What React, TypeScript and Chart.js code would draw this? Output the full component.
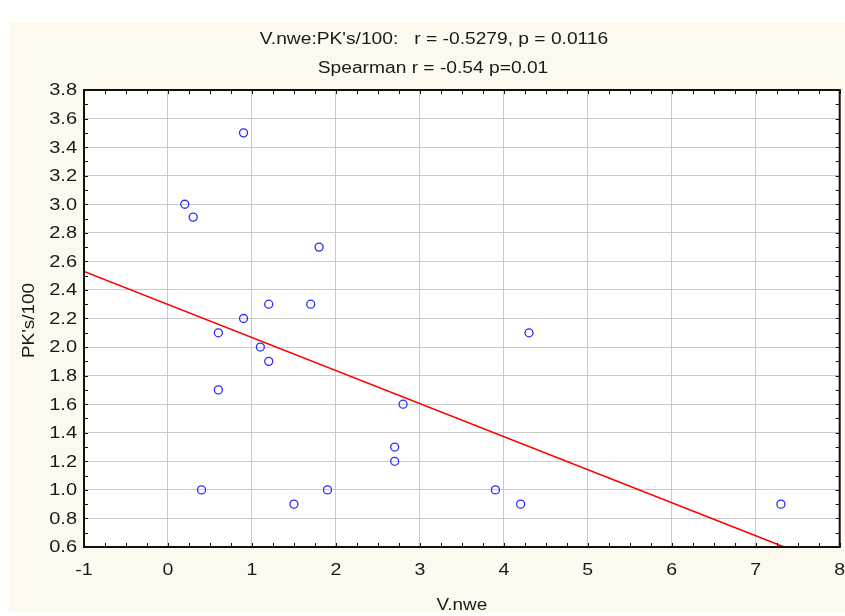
import React, { useEffect, useRef } from "react";
import { Chart, registerables } from "chart.js";

Chart.register(...registerables);

const xValues = [0.9, 0.2, 0.3, 1.8, 1.2, 1.7, 0.9, 0.6, 4.3, 1.1, 1.2, 0.6, 2.8, 2.7, 2.7, 0.4, 1.9, 1.5, 3.9, 4.2, 7.3];
const yValues = [3.5, 3.0, 2.91, 2.7, 2.3, 2.3, 2.2, 2.1, 2.1, 2.0, 1.9, 1.7, 1.6, 1.3, 1.2, 1.0, 1.0, 0.9, 1.0, 0.9, 0.9];
const fitX = [-1, 7.34];
const fitY = [2.53, 0.6];
const titleLines = ["V.nwe:PK's/100:   r = -0.5279, p = 0.0116", "Spearman r = -0.54 p=0.01"];
const xTitle = "V.nwe";
const yTitle = "PK's/100";
const xRange = [-1, 8];
const yRange = [0.6, 3.8];

const W = 845;
const H = 616;
const FONT = "16px 'Liberation Sans', Arial, sans-serif";
const TEXT = "#1a1a1a";

function drawText(ctx: any, text: string, x: number, y: number, align: string, baseline: string, sx: number) {
  ctx.save();
  ctx.translate(x, y);
  ctx.scale(sx, 1);
  ctx.font = FONT;
  ctx.fillStyle = TEXT;
  ctx.textAlign = align;
  ctx.textBaseline = baseline;
  ctx.fillText(text, 0, 0);
  ctx.restore();
}

const decor = {
  id: "decor",
  beforeDraw(chart: any) {
    const { ctx, chartArea: a } = chart;
    ctx.save();
    ctx.fillStyle = "#ffffff";
    ctx.fillRect(0, 0, W, H);
    ctx.fillStyle = "#fef9ee";
    ctx.fillRect(9, 22, W - 9, 590);
    ctx.fillStyle = "#ffffff";
    ctx.fillRect(a.left, a.top, a.right - a.left, a.bottom - a.top);
    ctx.restore();
  },
  afterDraw(chart: any) {
    const { ctx, chartArea: a } = chart;
    const xs = chart.scales.x;
    const ys = chart.scales.y;
    ctx.save();
    ctx.strokeStyle = "#111111";
    ctx.lineWidth = 1;
    ctx.beginPath();
    for (let i = 0; i <= 36; i++) {
      const v = xRange[0] + i * 0.25;
      const px = Math.round(xs.getPixelForValue(v)) + 0.5;
      ctx.moveTo(px, a.bottom);
      ctx.lineTo(px, a.bottom - 4);
      ctx.moveTo(px, a.top);
      ctx.lineTo(px, a.top + 4);
    }
    for (let i = 0; i <= 32; i++) {
      const v = yRange[0] + i * 0.1;
      const py = Math.round(ys.getPixelForValue(v)) + 0.5;
      ctx.moveTo(a.left, py);
      ctx.lineTo(a.left + 4, py);
      ctx.moveTo(a.right, py);
      ctx.lineTo(a.right - 4, py);
    }
    ctx.stroke();
    ctx.lineWidth = 2;
    ctx.strokeRect(a.left, a.top, a.right - a.left, a.bottom - a.top);
    ctx.restore();

    // tick labels, placed through the library's scales
    for (const t of xs.ticks) {
      const px = xs.getPixelForValue(t.value);
      drawText(ctx, String(Math.round(t.value)), px, a.bottom + 28, "center", "alphabetic", 1.22);
    }
    for (const t of ys.ticks) {
      const py = ys.getPixelForValue(t.value);
      drawText(ctx, Number(t.value).toFixed(1), a.left - 7, py + 1, "right", "middle", 1.25);
    }

    drawText(ctx, titleLines[0], 434, 44, "center", "alphabetic", 1.2);
    drawText(ctx, titleLines[1], 433, 73, "center", "alphabetic", 1.2);
    drawText(ctx, xTitle, (a.left + a.right) / 2, 610, "center", "alphabetic", 1.18);

    ctx.save();
    ctx.translate(33.5, (a.top + a.bottom) / 2 + 2);
    ctx.rotate(-Math.PI / 2);
    drawText(ctx, yTitle, 0, 0, "center", "alphabetic", 1.18);
    ctx.restore();
  },
};

export default function App() {
  const ref = useRef<HTMLCanvasElement | null>(null);
  useEffect(() => {
    if (!ref.current) return;
    const chart = new Chart(ref.current, {
      type: "scatter",
      data: {
        datasets: [
          {
            label: "points",
            data: xValues.map((x, i) => ({ x, y: yValues[i] })),
            pointRadius: 4,
            pointBorderWidth: 1.3,
            pointBorderColor: "#2b2bff",
            pointBackgroundColor: "rgba(0,0,0,0)",
            pointHoverRadius: 4,
            showLine: false,
          },
          {
            label: "fit",
            type: "line",
            data: fitX.map((x, i) => ({ x, y: fitY[i] })),
            borderColor: "#ff0000",
            borderWidth: 1.6,
            pointRadius: 0,
            fill: false,
          },
        ],
      },
      plugins: [decor],
      options: {
        responsive: false,
        animation: false,
        layout: { padding: { top: 90, left: 0, right: 2, bottom: 0 } },
        plugins: { legend: { display: false }, tooltip: { enabled: false }, title: { display: false } },
        scales: {
          x: {
            type: "linear",
            min: xRange[0],
            max: xRange[1],
            ticks: { stepSize: 1, display: false },
            grid: { color: "#cacaca", lineWidth: 1, drawTicks: false },
            border: { display: false },
            afterFit: (s: any) => {
              s.height = 69;
              s.paddingLeft = 0;
              s.paddingRight = 0;
            },
          },
          y: {
            type: "linear",
            min: yRange[0],
            max: yRange[1],
            ticks: { stepSize: 0.2, display: false },
            grid: { color: "#cacaca", lineWidth: 1, drawTicks: false },
            border: { display: false },
            afterFit: (s: any) => {
              s.width = 84;
              s.paddingTop = 0;
              s.paddingBottom = 0;
            },
          },
        },
      },
    } as any);
    return () => chart.destroy();
  }, []);
  return (
    <div style={{ position: "absolute", left: 0, top: 0, width: W, height: H, overflow: "hidden" }}>
      <canvas ref={ref} width={W} height={H} style={{ display: "block", width: W, height: H }} />
    </div>
  );
}
